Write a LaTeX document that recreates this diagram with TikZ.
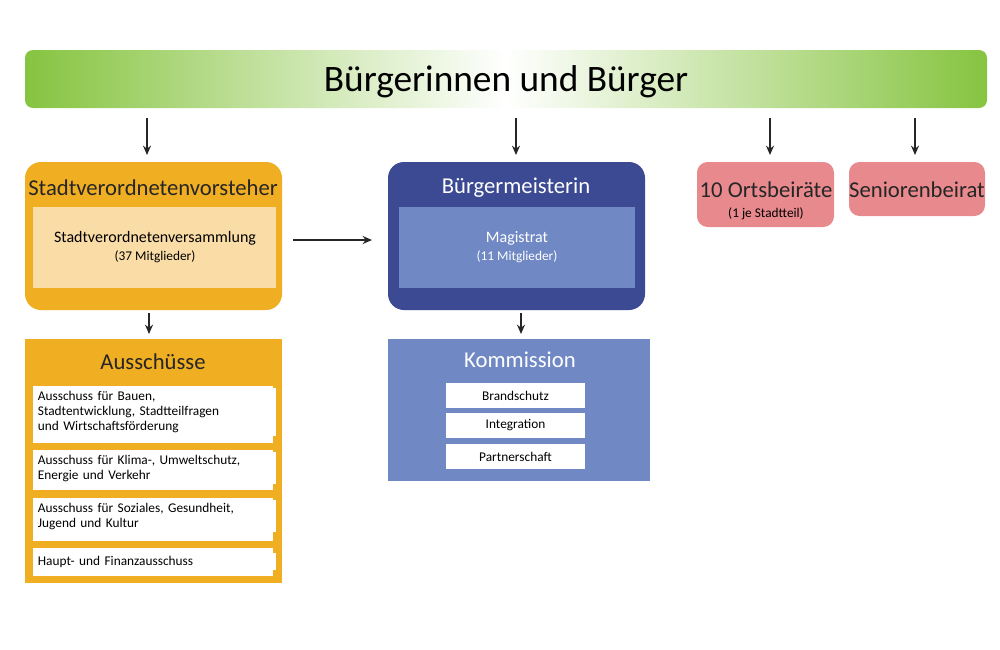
\documentclass[tikz,border=0pt]{standalone}
\usepackage{fontspec}
\setmainfont{Carlito}
\usetikzlibrary{arrows.meta}
\definecolor{org}{HTML}{F0AE22}
\definecolor{orgl}{HTML}{FADDA6}
\definecolor{blu}{HTML}{3B4A92}
\definecolor{blul}{HTML}{7088C4}
\definecolor{pnk}{HTML}{E8898E}
\definecolor{grn}{HTML}{86C440}
\tikzset{
 arr/.style={-{Stealth[length=7pt,width=6pt]},line width=1.3pt,black!85},
 ttl/.style={font=\fontsize{17}{19}\selectfont\scshape, text=black!85},
 wbox/.style={fill=white,draw=none,inner sep=2pt,align=left,anchor=north west,text width=#1,font=\fontsize{10}{11.5}\selectfont},
}
\begin{document}
\begin{tikzpicture}[x=0.75pt,y=-0.75pt]
\useasboundingbox (0,0) rectangle (1000,650);
% top bar
\begin{scope}
\clip[rounded corners=6pt] (25,50) rectangle (987,108);
\shade[left color=grn,right color=white] (25,50) rectangle (506,108);
\shade[left color=white,right color=grn] (506,50) rectangle (987,108);
\end{scope}
\node (top) at (506,82) {\fontsize{28}{30}\selectfont\scshape Bürgerinnen und Bürger};
% arrows from top
\foreach \x/\n in {147/a,516/b,770/c,915/d}{
 \coordinate (s\n) at (\x,118); \coordinate (e\n) at (\x,155);
 \draw[arr] (s\n) -- (e\n);}
% orange
\fill[org,rounded corners=12pt] (25,162) rectangle (282,310);
\node[ttl] (svv) at (153,188) {Stadtverordnetenvorsteher};
\fill[orgl] (33,207) rectangle (276,288);
\node[align=center,font=\fontsize{12}{14}\selectfont] (sv) at (155,247) {Stadtverordnetenversammlung\\[-1pt]{\fontsize{10}{12}\selectfont(37 Mitglieder)}};
% blue
\fill[blu,rounded corners=12pt] (388,162) rectangle (645,310);
\node[ttl,text=white] (bm) at (516,188) {Bürgermeisterin};
\fill[blul] (399,207) rectangle (635,288);
\node[align=center,text=white,font=\fontsize{12}{14}\selectfont] (mag) at (517,247) {Magistrat\\[-1pt]{\fontsize{10}{12}\selectfont(11 Mitglieder)}};
\coordinate (l1) at (293,240); \coordinate (l2) at (372,240);
\draw[arr] (l1) -- (l2);
% pink
\fill[pnk,rounded corners=8pt] (697,162) rectangle (834,227);
\node[ttl] (ob) at (766,190) {10 Ortsbeiräte};
\node[font=\fontsize{10}{12}\selectfont] (ob2) at (766,214) {(1 je Stadtteil)};
\fill[pnk,rounded corners=8pt] (849,162) rectangle (985,216);
\node[ttl] (sb) at (917,190) {Seniorenbeirat};
% down arrows
\coordinate (p1) at (149,313); \coordinate (p2) at (149,334);
\draw[arr] (p1) -- (p2);
\coordinate (q1) at (521,313); \coordinate (q2) at (521,334);
\draw[arr] (q1) -- (q2);
% Ausschuesse
\fill[org] (25,339) rectangle (282,583);
\node[ttl] (au) at (153,362) {Ausschüsse};
\fill[white] (33,386) rectangle (273,443);
\node[wbox=235pt*0.75] (a1) at (35,388) {Ausschuss für Bauen,\\Stadtentwicklung, Stadtteilfragen\\und Wirtschaftsförderung};
\fill[white] (33,450) rectangle (273,490);
\node[wbox=235pt*0.75] (a2) at (35,452) {Ausschuss für Klima-, Umweltschutz,\\Energie und Verkehr};
\fill[white] (33,498) rectangle (273,541);
\node[wbox=235pt*0.75] (a3) at (35,500) {Ausschuss für Soziales, Gesundheit,\\Jugend und Kultur};
\fill[white] (33,548) rectangle (273,576);
\node[wbox=235pt*0.75] (a4) at (35,553) {Haupt- und Finanzausschuss};
% Kommission
\fill[blul] (388,339) rectangle (650,481);
\node[ttl,text=white] (ko) at (520,360) {Kommission};
\foreach \y/\t/\n in {383/Brandschutz/k1,413/Integration/k2,444/Partnerschaft/k3}{
 \fill[white] (446,\y) rectangle (585,\y+25);
 \node[font=\fontsize{10}{12}\selectfont] (\n) at (515.5,\y+12.5) {\t};}
\end{tikzpicture}
\end{document}
